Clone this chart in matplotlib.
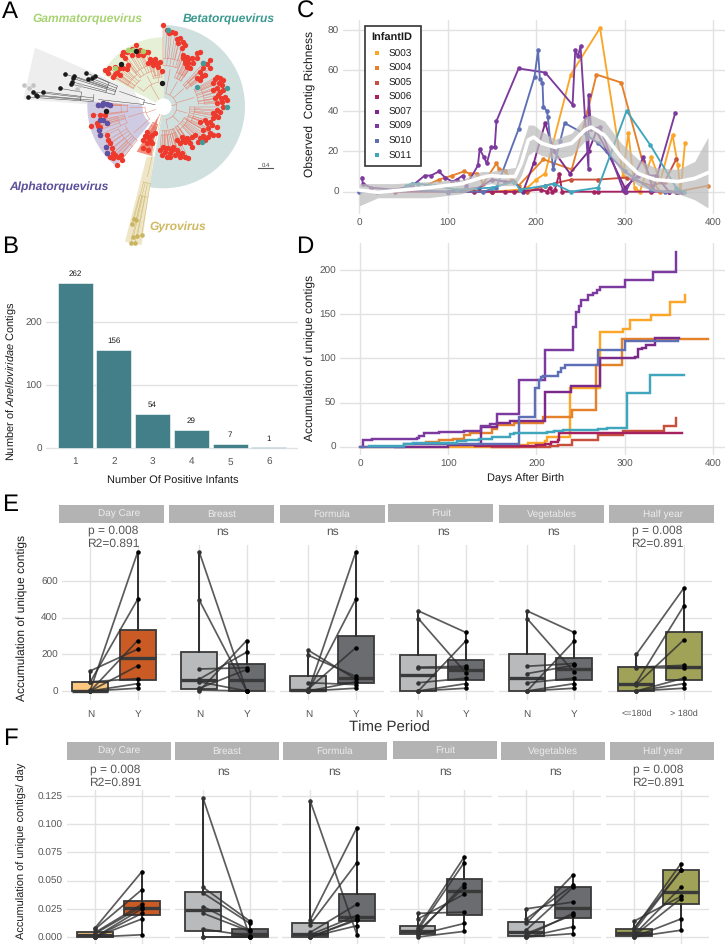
import numpy as np
import matplotlib
matplotlib.use("Agg")
import matplotlib.pyplot as plt
from matplotlib.patches import Wedge, Polygon, Rectangle

plt.rcParams["font.family"] = ["Liberation Sans", "DejaVu Sans"]
plt.rcParams["mathtext.fontset"] = "custom"
plt.rcParams["mathtext.rm"] = "Liberation Sans"
plt.rcParams["mathtext.it"] = "Liberation Sans:italic"
plt.rcParams["text.hinting"] = "no_hinting"
plt.rcParams["text.hinting_factor"] = 1

W, H = 727, 946
GRID = "#e2e2e2"
TICK = "#555555"
DARK = "#1a1a1a"

# Panel B
positive_infants = [1, 2, 3, 4, 5, 6]
contig_counts = [262, 156, 54, 29, 7, 1]

# Panel C, richness per infant
infants = ["S003", "S004", "S005", "S006", "S007", "S009", "S010", "S011"]
infant_colors = ["#fba629", "#e5802b", "#c94f3d", "#a62160", "#7b2a8b", "#7d3a9e", "#5f6fb5", "#40a6bd"]

s003_day = [120, 150, 180, 190, 200, 210, 239, 272, 298, 304, 311, 317, 330, 340, 354, 360, 363, 368]
s003_val = [1, 0, 1, 2, 6, 9, 58, 81, 8, 29, 2, 0, 17, 5, 28, 13, 0, 24]
s004_day = [75, 90, 105, 118, 125, 133, 140, 155, 158, 165, 172, 180, 208, 240, 258, 268, 296, 320, 330, 340, 360, 394]
s004_val = [3, 6, 8, 10, 9, 9, 4, 14, 11, 10, 6, 3, 16, 11, 40, 58, 54, 15, 6, 0, 0, 3]
s005_day = [100, 150, 190, 210, 239, 270, 302, 330, 345, 358]
s005_val = [0, 0, 0, 3, 6, 6, 7, 3, 5, 16]
s006_day = [40, 100, 130, 150, 165, 175, 205, 212, 215, 218, 221, 226, 229, 265, 270, 300, 330, 350, 358, 365]
s006_val = [0, 0, 0, 0, 0, 0, 1, 0, 2, 0, 1, 9, 0, 0, 0, 0, 0, 0, 0, 0]
s007_day = [100, 135, 150, 165, 175, 185, 197, 210, 220, 238, 259, 268, 280, 300, 315, 335, 350, 365]
s007_val = [0, 2, 6, 5, 5, 0, 14, 34, 20, 9, 20, 30, 20, 2, 8, 8, 0, 0]
s009_day = [3, 4, 13, 40, 60, 74, 81, 90, 97, 105, 110, 117, 121, 134, 136, 141, 144, 149, 153, 155, 180, 210, 241,
            244, 247, 250, 255, 259, 259, 262, 272, 298, 301, 321, 332, 357]
s009_val = [7, 4, 2, 1, 3, 8, 8, 10, 7, 5, 6, 8, 3, 13, 21, 17, 14, 22, 22, 35, 61, 59, 43,
            70, 67, 72, 37, 11, 48, 31, 32, 1, 0, 17, 1, 39]
s010_day = [0, 20, 50, 100, 140, 155, 180, 198, 202, 204, 207, 208, 212, 213, 219, 227, 232, 257, 270, 300, 330, 345, 360]
s010_val = [0, 0, 1, 0, 0, 2, 31, 57, 70, 56, 54, 42, 40, 37, 11, 25, 34, 28, 24, 10, 1, 0, 0]
s011_day = [53, 60, 66, 85, 110, 150, 175, 182, 210, 220, 239, 270, 302, 329, 358, 367]
s011_val = [3, 4, 4, 3, 1, 2, 5, 1, 3, 4, 0, 2, 40, 23, 2, 0]

rich_days = [s003_day, s004_day, s005_day, s006_day, s007_day, s009_day, s010_day, s011_day]
rich_vals = [s003_val, s004_val, s005_val, s006_val, s007_val, s009_val, s010_val, s011_val]

# Panel C smoother and its ribbon
smooth_day = [0, 21, 40, 78, 116, 138, 149, 160, 176, 183, 191, 197, 206, 221, 240, 255, 262, 277, 296, 315, 334, 360, 379, 394]
smooth_mid = [0.8, -0.3, 0.5, 2, 4, 7, 8, 7.5, 7.5, 14, 25.6, 27, 24, 22, 24, 30.6, 32, 28, 17, 9, 6, 5, 6.6, 9.4]
smooth_low = [-7, -3, -3, -3, -1, 3, 4, 3, 3, 8, 18, 20, 18, 16, 18, 25, 26, 22, 10, 3, 0, -1, -4, -8]
smooth_high = [4, 4, 4, 5, 6, 10, 10, 11, 12, 22, 33, 33, 30, 26, 29, 37, 38, 35, 24, 16, 12, 11, 15, 27]

# Panel D, cumulative steps per infant
a003_day = [0, 100, 180, 190, 210, 212, 238, 272, 298, 306, 330, 352, 368, 368]
a003_val = [0, 0, 2, 4, 6, 11, 67, 130, 133, 143, 149, 164, 172, 172]
a004_day = [75, 90, 105, 118, 125, 133, 150, 155, 175, 208, 240, 268, 297, 395]
a004_val = [5, 8, 9, 13, 15, 16, 20, 25, 27, 34, 41, 92, 122, 122]
a005_day = [150, 215, 225, 240, 270, 298, 340, 345, 358, 358]
a005_val = [0, 1, 2, 8, 13, 18, 18, 23, 33, 33]
a006_day = [130, 200, 210, 217, 225, 226, 365]
a006_val = [1, 2, 3, 5, 8, 15, 15]
a007_day = [40, 100, 135, 137, 155, 170, 210, 239, 272, 312, 315, 320, 324, 335, 362]
a007_val = [0, 2, 3, 22, 27, 29, 62, 69, 100, 102, 111, 112, 115, 123, 123]
a009_day = [2, 3, 14, 65, 67, 73, 90, 118, 137, 147, 155, 180, 210, 242, 245, 248, 251, 259, 264, 269, 272, 300, 332, 358, 358]
a009_val = [0, 8, 9, 10, 12, 16, 17, 18, 24, 26, 37, 75, 110, 135, 152, 159, 166, 172, 174, 178, 181, 189, 198, 220, 220]
a010_day = [0, 50, 150, 180, 198, 203, 205, 208, 225, 228, 232, 270, 300, 360]
a010_val = [0, 3, 3, 34, 67, 75, 79, 80, 85, 89, 92, 109, 120, 121]
a011_day = [10, 30, 50, 60, 110, 120, 135, 150, 170, 175, 210, 212, 220, 230, 270, 280, 303, 329, 367]
a011_val = [1, 1, 3, 4, 6, 8, 9, 11, 14, 16, 15, 17, 18, 19, 20, 21, 61, 81, 81]

acc_days = [a003_day, a004_day, a005_day, a006_day, a007_day, a009_day, a010_day, a011_day]
acc_vals = [a003_val, a004_val, a005_val, a006_val, a007_val, a009_val, a010_val, a011_val]

# Panels E and F, same eight infants in each list, paired by position
facets = ["Day Care", "Breast", "Formula", "Fruit", "Vegetables", "Half year"]
group_labels = ["N", "Y"]
half_labels = ["<=180d", "> 180d"]

e_n = [[5, 50, 0, 110, 0, 50, 0, 0],
       [757, 495, 120, 65, 50, 15, 5, 0],
       [0, 0, 12, 222, 195, 45, 0, 0],
       [437, 395, 130, 125, 45, 0, 0, 0],
       [437, 395, 135, 95, 45, 0, 0, 0],
       [200, 45, 130, 128, 35, 0, 0, 0]]
e_y = [[757, 500, 275, 228, 137, 68, 40, 15],
       [0, 0, 127, 212, 0, 117, 0, 275],
       [757, 500, 235, 65, 80, 35, 50, 15],
       [320, 100, 135, 125, 70, 272, 40, 15],
       [320, 105, 150, 140, 70, 272, 40, 15],
       [560, 463, 140, 125, 278, 70, 40, 15]]

f_n = [[0.008, 0.007, 0.004, 0.003, 0, 0, 0, 0],
       [0.123, 0.044, 0.039, 0.027, 0.021, 0.007, 0, 0],
       [0.121, 0.015, 0.011, 0.004, 0.002, 0, 0, 0],
       [0.021, 0.016, 0.008, 0.006, 0.005, 0.003, 0.002, 0],
       [0.025, 0.016, 0.012, 0.006, 0.003, 0.001, 0, 0],
       [0.014, 0.008, 0.007, 0.005, 0.002, 0.001, 0, 0]]
f_y = [[0.058, 0.042, 0.029, 0.027, 0.025, 0.021, 0.016, 0.002],
       [0, 0.014, 0.012, 0.006, 0.005, 0.001, 0, 0],
       [0.002, 0.097, 0.066, 0.029, 0.019, 0.016, 0.015, 0.01],
       [0.022, 0.038, 0.071, 0.066, 0.044, 0.047, 0.012, 0.005],
       [0.031, 0.046, 0.055, 0.044, 0.0195, 0.021, 0.009, 0.003],
       [0.036, 0.059, 0.065, 0.059, 0.044, 0.034, 0.016, 0.006]]

box_n_colors = ["#fdc77f", "#b9babc", "#b9babc", "#b9babc", "#b9babc", "#a0a258"]
box_y_colors = ["#cb5b25", "#6b6c70", "#6b6c70", "#6b6c70", "#6b6c70", "#a0a258"]
p_labels = ["p = 0.008\nR2=0.891", "ns", "ns", "ns", "ns", "p = 0.008\nR2=0.891"]

# Panel A, tip layout of the tree (units: picture px x 3)
tree_centre = (490, 320)
beta_tips = [
    [(490, 75), (500, 90), (515, 95), (525, 100), (540, 115), (550, 125), (535, 130), (555, 135), (545, 145), (530, 118), (508, 100)],
    [(550, 165), (560, 170), (575, 175), (590, 160), (600, 155), (555, 190), (565, 190), (590, 175), (555, 180), (570, 205),
     (565, 178), (580, 188), (548, 175), (560, 200)],
    [(630, 180), (610, 190), (600, 215), (615, 225), (590, 235), (600, 240), (630, 205), (622, 192), (610, 205), (605, 228)],
    [(650, 230), (660, 235), (670, 240), (640, 250), (665, 255), (650, 265), (670, 270), (655, 285), (675, 290), (680, 300), (665, 305), (650, 310),
     (645, 238), (658, 248), (640, 270), (660, 275), (645, 295), (662, 295)],
    [(670, 320), (660, 335), (645, 345), (655, 350), (640, 355), (630, 365), (620, 370), (600, 365), (650, 380), (625, 385), (610, 390),
     (650, 330), (635, 375), (640, 340), (615, 360)],
    [(655, 405), (640, 405), (625, 410), (615, 420), (600, 415), (585, 405), (575, 410), (560, 415), (545, 410), (570, 430), (555, 425), (575, 440),
     (630, 400), (595, 425), (610, 408), (565, 420), (548, 420)],
    [(540, 430), (530, 420), (520, 440), (505, 445), (490, 440), (495, 455), (510, 460), (525, 465), (540, 470), (555, 470), (565, 475), (480, 450), (485, 465), (500, 470),
     (530, 450), (515, 450), (545, 460), (495, 445), (535, 460), (510, 472)],
]
beta_teal = [(590, 260), (680, 265), (680, 320), (605, 425), (505, 90), (610, 190)]
gamma_tips = [
    [(368, 155), (382, 155), (395, 148), (408, 135), (420, 150), (437, 155), (430, 165), (445, 155), (365, 165), (375, 175), (395, 165), (415, 165)],
    [(450, 178), (465, 178), (480, 185), (445, 190), (460, 195), (475, 200), (485, 212), (455, 185), (470, 188)],
    [(385, 195), (370, 205), (350, 215), (360, 225), (340, 230), (325, 220), (345, 200), (380, 208), (315, 210), (328, 205), (360, 205), (345, 222)],
]
gamma_green = [(385, 150), (400, 150), (345, 203), (430, 152)]
gamma_black = [(408, 152), (363, 192), (487, 249)]
grey_tips = [
    [(195, 222), (222, 228), (218, 235), (215, 245), (213, 252), (258, 218), (285, 228), (265, 238), (275, 235)],
    [(180, 265), (128, 275), (100, 276), (108, 285), (85, 291), (112, 288)],
]
grey_light = [(73, 256), (88, 264), (100, 255), (232, 268), (240, 255)]
alpha_tips = [
    [(295, 315), (305, 315), (320, 313), (330, 315), (310, 310), (280, 345), (300, 345), (315, 345)],
    [(300, 360), (310, 360), (320, 370), (272, 377), (295, 377), (290, 370), (300, 380), (298, 390), (300, 405)],
    [(320, 405), (325, 420), (330, 430), (335, 445), (340, 460), (345, 465), (355, 470), (362, 465), (365, 480), (352, 495), (340, 475), (330, 470), (318, 440), (322, 458)],
]
alpha_purple = [(295, 315), (305, 315), (320, 313), (330, 315), (310, 310), (300, 360), (310, 360), (320, 370), (298, 390), (300, 405), (318, 440), (322, 458)]
alpha_black = [(317, 332)]
red_tips = [[(440, 395), (445, 410), (430, 420), (455, 405), (440, 430), (430, 445), (445, 450), (455, 430), (465, 400), (435, 408), (450, 420)]]
gyro_tips = [[(402, 657), (395, 672), (408, 660), (400, 712), (412, 708), (425, 704), (392, 730), (405, 730)]]


def px_axes(left, top, right, bottom):
    ax = fig.add_axes([left / W, 1 - bottom / H, (right - left) / W, (bottom - top) / H])
    for s in ax.spines.values():
        s.set_visible(False)
    ax.set_axisbelow(True)
    ax.tick_params(length=0, labelsize=7.3, labelcolor=TICK, pad=3)
    return ax


def px_text(x, y, s, **kw):
    kw.setdefault("ha", "center")
    kw.setdefault("va", "center")
    fig.text(x / W, 1 - y / H, s, **kw)


def polar(pt):
    dx, dy = pt[0] - tree_centre[0], pt[1] - tree_centre[1]
    return np.arctan2(dy, dx), np.hypot(dx, dy)


def cart(angle, r):
    return tree_centre[0] + r * np.cos(angle), tree_centre[1] + r * np.sin(angle)


def arc(ax, a0, a1, r, color):
    angles = np.linspace(a0, a1, 12)
    xs, ys = cart(angles, r)
    ax.plot(xs, ys, color=color, lw=0.35, solid_capstyle="round")


def radial(ax, angle, r0, r1, color):
    xs, ys = cart(np.array([angle, angle]), np.array([r0, r1]))
    ax.plot(xs, ys, color=color, lw=0.35)


def draw_clade(ax, clusters, color, r_clade, wrap=False):
    # tips -> cluster node -> clade node -> root, in the circular layout
    means = []
    for tips in clusters:
        angles, radii = zip(*[polar(p) for p in tips])
        angles = np.array(angles)
        if wrap:
            angles = np.where(angles < 0, angles + 2 * np.pi, angles)
        order = np.argsort(angles)
        angles, radii = angles[order], np.array(radii)[order]
        r_node = max(r_clade * 1.15, radii.min() * 0.62)
        r_mid = r_node + (radii.min() - r_node) * 0.45
        for i, (a, r) in enumerate(zip(angles, radii)):
            radial(ax, a, r_mid if i % 2 else r_node + (r_mid - r_node) * 0.3, r, color)
        arc(ax, angles[0], angles[-1], r_node + (r_mid - r_node) * 0.3, color)
        arc(ax, angles[0], angles[-1], r_mid, color)
        mean = angles.mean()
        radial(ax, mean, r_clade, r_node, color)
        means.append(mean)
    arc(ax, min(means), max(means), r_clade, color)
    radial(ax, np.mean(means), 25, r_clade, color)


def scatter_tips(ax, tips, color, s=15, alpha=1.0, z=5):
    xs, ys = zip(*tips)
    ax.scatter(xs, ys, s=s, color=color, alpha=alpha, linewidths=0, zorder=z)


def facet_panel(ax, n_vals, y_vals, n_color, y_color):
    bp = ax.boxplot([n_vals, y_vals], positions=[1, 2], widths=0.76, whis=(0, 100), patch_artist=True,
                    showcaps=False, showfliers=False, manage_ticks=False, zorder=3)
    for patch, c in zip(bp["boxes"], [n_color, y_color]):
        patch.set(facecolor=c, edgecolor="#3a3a3a", linewidth=1.3)
    for w in bp["whiskers"]:
        w.set(color="#2e2e2e", linewidth=1.4)
    for m in bp["medians"]:
        m.set(color="#3a3a3a", linewidth=2.4)
    for a, b in zip(n_vals, y_vals):
        ax.plot([1, 2], [a, b], color="#2e2e2e", lw=1.25, alpha=0.78, zorder=4)
    ax.scatter([1] * len(n_vals), n_vals, s=10.5, color="#333333", linewidths=0, zorder=5)
    ax.scatter([2] * len(y_vals), y_vals, s=10.5, color="black", linewidths=0, zorder=5)


fig = plt.figure(figsize=(W / 100, H / 100), dpi=100, facecolor="white")

# A: tree
ax = px_axes(0, 0, 300, 250)
ax.set_xlim(0, 900)
ax.set_ylim(750, 0)
ax.axis("off")
ax.add_patch(Wedge(tree_centre, 245, -90, 100, width=220, facecolor="#cfe0df", edgecolor="none"))
ax.add_patch(Wedge(tree_centre, 208, -152, -90, width=183, facecolor="#e6f0d6", edgecolor="none"))
ax.add_patch(Polygon([(105, 143), (70, 298), (430, 325), (400, 270)], facecolor="#eeeeee", edgecolor="none"))
ax.add_patch(Wedge(tree_centre, 228, 129, 184, width=165, facecolor="#cfcbe2", edgecolor="none"))
ax.add_patch(Polygon([(410, 455), (455, 468), (474, 350)], facecolor="#f2907f", edgecolor="none"))
ax.add_patch(Polygon([(440, 470), (462, 470), (425, 735), (375, 725)], facecolor="#efe6c9", edgecolor="none"))

draw_clade(ax, beta_tips, "#e8806f", 40)
draw_clade(ax, gamma_tips, "#e08a76", 75, wrap=True)
draw_clade(ax, grey_tips, "#444444", 60, wrap=True)
draw_clade(ax, alpha_tips, "#e08a76", 55, wrap=True)
draw_clade(ax, red_tips, "#e2705f", 35)
draw_clade(ax, gyro_tips, "#cdb968", 150)

for group in beta_tips + gamma_tips + alpha_tips + red_tips:
    scatter_tips(ax, group, "#ee3a2c")
scatter_tips(ax, beta_teal, "#3f9a98", z=6)
scatter_tips(ax, gamma_green, "#a8d26e", z=6)
scatter_tips(ax, gamma_black, "#1a1a1a", z=6)
for group in grey_tips:
    scatter_tips(ax, group, "#1a1a1a", s=11)
scatter_tips(ax, grey_light, "#c4c4c4", s=11)
scatter_tips(ax, alpha_purple, "#5a52a6", z=6)
scatter_tips(ax, alpha_black, "#1a1a1a", z=6)
scatter_tips(ax, gyro_tips[0], "#c9b560", s=11)
ax.plot([775, 818], [505, 505], color="#555555", lw=0.8)

px_text(87, 19, "Gammatorquevirus", color="#a8d373", fontsize=8.3, fontweight="bold", style="italic")
px_text(229, 19, "Betatorquevirus", color="#3a9a90", fontsize=8.3, fontweight="bold", style="italic")
px_text(59, 187, "Alphatorquevirus", color="#5b4f9a", fontsize=8.3, fontweight="bold", style="italic")
px_text(178, 227, "Gyrovirus", color="#d0b860", fontsize=8.3, fontweight="bold", style="italic")
px_text(266, 165, "0.4", color="#444444", fontsize=4.5)

# B: bars
ax = px_axes(46, 268, 298, 453)
ax.bar(positive_infants, contig_counts, width=0.9, color="#437f89", edgecolor="white", linewidth=0.4)
ax.set_xlim(0.25, 6.75)
ax.set_ylim((448 - 453) / 0.63, (448 - 268) / 0.63)
ax.set_xticks(positive_infants)
ax.set_yticks([0, 100, 200])
ax.grid(axis="y", color=GRID, lw=1)
ax.tick_params(axis="x", pad=3)
for xv, yv in zip(positive_infants, contig_counts):
    ax.text(xv, yv + 8, str(yv), ha="center", va="bottom", fontsize=6, color=DARK)
px_text(12, 381, r"Number of $\mathit{Anelloviridae}$ Contigs", rotation=90, fontsize=8.1, color=DARK)
px_text(173, 481, "Number Of Positive Infants", fontsize=7.9, color=DARK)

# C: richness
ax = px_axes(343, 20, 725, 214)
for days, vals, c in zip(rich_days, rich_vals, infant_colors):
    ax.plot(days, vals, color=c, lw=1.35, marker="o", ms=3.3, mew=0, zorder=3)
ax.fill_between(smooth_day, smooth_low, smooth_high, color="#bcbcbc", alpha=0.72, lw=0, zorder=4)
ax.plot(smooth_day, smooth_mid, color="white", lw=2.6, zorder=5)
ax.set_xlim((343 - 359.3) / 0.885, (725 - 359.3) / 0.885)
ax.set_ylim((191.7 - 214) / 2.02, (191.7 - 20) / 2.02)
ax.set_xticks([0, 100, 200, 300, 400])
ax.set_yticks([0, 20, 40, 60, 80])
ax.grid(color=GRID, lw=1)
ax.tick_params(axis="x", pad=3)
px_text(310, 104, "Observed  Contig Richness", rotation=90, fontsize=8.5, color=DARK)

fig.add_artist(Rectangle((365 / W, 1 - 166 / H), 56 / W, 140 / H, transform=fig.transFigure,
                         facecolor="white", edgecolor="#333333", linewidth=1.2, zorder=6))
px_text(392, 38, "InfantID", fontsize=7.8, fontweight="bold", color=DARK, zorder=7)
legend_ax = px_axes(365, 26, 421, 166)
legend_ax.set_xlim(365, 421)
legend_ax.set_ylim(166, 26)
legend_ax.axis("off")
legend_ax.set_zorder(8)
for i, (name, c) in enumerate(zip(infants, infant_colors)):
    ly = 53.5 + i * 14.55
    legend_ax.scatter([376.7], [ly], marker="s", s=12, color=c, linewidths=0)
    legend_ax.text(389, ly + 0.5, name, fontsize=7.3, color=DARK, ha="left", va="center")

# D: accumulation
ax = px_axes(340, 243, 725, 455)
for days, vals, c in zip(acc_days, acc_vals, infant_colors):
    ax.step(days, vals, where="post", color=c, lw=1.75, solid_joinstyle="miter")
ax.set_xlim((340 - 360) / 0.882, (725 - 360) / 0.882)
ax.set_ylim((446.7 - 455) / 0.883, (446.7 - 243) / 0.883)
ax.set_xticks([0, 100, 200, 300, 400])
ax.set_yticks([0, 50, 100, 150, 200])
ax.grid(color=GRID, lw=1)
ax.tick_params(axis="x", pad=3)
px_text(310, 358, "Accumulation of unique contigs", rotation=90, fontsize=8.4, color=DARK)
px_text(526, 479, "Days After Birth", fontsize=7.9, color=DARK)

# E and F: paired boxes
e_left = [62, 171, 280, 390, 499, 608]
e_right = [166, 275, 384, 494, 602, 712]
f_left = [67, 175, 282, 390, 498, 606]
f_right = [170, 278, 385, 492, 601, 709]
e_strip_x = [59, 169, 280, 388, 499, 609]
f_strip_x = [67, 175, 283, 393, 501, 610]
e_strip_y = [505, 505, 505, 504, 505, 505]
f_strip_y = [742, 742, 742, 741, 742, 742]
e_strip_tx = [119, 222, 332, 441, 552, 663]
f_strip_tx = [119, 227, 335, 445, 553, 663]
e_note_x = [113, 223, 333, 444, 554, 657]
f_note_x = [115, 224, 335, 446, 556, 658]

for i, name in enumerate(facets):
    ax = px_axes(e_left[i], 545, e_right[i], 700)
    facet_panel(ax, e_n[i], e_y[i], box_n_colors[i], box_y_colors[i])
    ax.set_xlim(0.4, 2.6)
    ax.set_ylim((691 - 700) / 0.1833, (691 - 545) / 0.1833)
    ax.set_xticks([1, 2])
    ax.set_xticklabels(half_labels if i == 5 else group_labels, fontsize=6.6 if i == 5 else 7)
    ax.set_yticks([0, 200, 400, 600])
    if i > 0:
        ax.set_yticklabels([])
    ax.grid(color=GRID, lw=1)
    ax.tick_params(axis="x", pad=7)
    fig.add_artist(Rectangle((e_strip_x[i] / W, 1 - (e_strip_y[i] + 18) / H), 105 / W, 18 / H,
                             transform=fig.transFigure, facecolor="#b3b3b3", edgecolor="none"))
    px_text(e_strip_tx[i], e_strip_y[i] + 9, name, fontsize=7.2, color="#ececec")
    if "\n" in p_labels[i]:
        first, second = p_labels[i].split("\n")
        px_text(e_note_x[i], 530, first, fontsize=8.5, color="#555555")
        px_text(e_note_x[i], 544, second, fontsize=8.5, color="#555555")
    else:
        px_text(e_note_x[i], 532, p_labels[i], fontsize=8.5, color="#555555")

    ax = px_axes(f_left[i], 790, f_right[i], 944)
    facet_panel(ax, f_n[i], f_y[i], box_n_colors[i], box_y_colors[i])
    ax.set_xlim(0.4, 2.6)
    ax.set_ylim((937 - 944) / 1128, (937 - 790) / 1128)
    ax.set_xticks([1, 2])
    ax.set_xticklabels([])
    ax.set_yticks([0, 0.025, 0.05, 0.075, 0.1, 0.125])
    ax.set_yticklabels(["0.000", "0.025", "0.050", "0.075", "0.100", "0.125"])
    if i > 0:
        ax.set_yticklabels([])
    ax.grid(color=GRID, lw=1)
    fig.add_artist(Rectangle((f_strip_x[i] / W, 1 - (f_strip_y[i] + 17.5) / H), 104 / W, 17.5 / H,
                             transform=fig.transFigure, facecolor="#b3b3b3", edgecolor="none"))
    px_text(f_strip_tx[i], f_strip_y[i] + 9, name, fontsize=7.2, color="#ececec")
    if "\n" in p_labels[i]:
        first, second = p_labels[i].split("\n")
        px_text(f_note_x[i], 769, first, fontsize=8.5, color="#555555")
        px_text(f_note_x[i], 783, second, fontsize=8.5, color="#555555")
    else:
        px_text(f_note_x[i], 772, p_labels[i], fontsize=8.5, color="#555555")

px_text(22, 618, "Accumulation of unique contigs", rotation=90, fontsize=8.3, color=DARK)
px_text(22, 851, "Accumulation of unique contigs/ day", rotation=90, fontsize=7.9, color=DARK)
px_text(389, 728, "Time Period", fontsize=11, color="#333333")

# Panel letters
for letter, x, y in zip("ABCDEF", [10, 10, 305, 305, 10, 10], [12, 247, 12, 247, 505, 739]):
    px_text(x, y, letter, fontsize=17.5, color="black")

plt.savefig("out.png", dpi=100)
